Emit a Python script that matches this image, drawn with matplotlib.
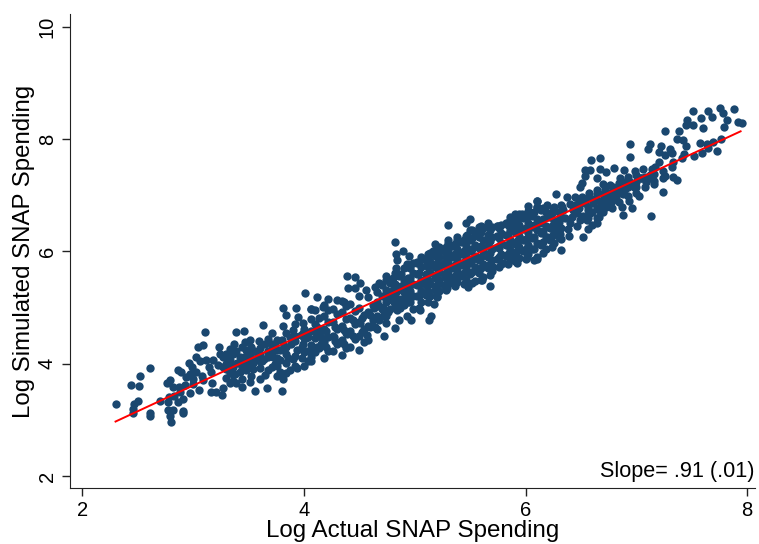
import matplotlib
matplotlib.use('Agg')
import matplotlib.pyplot as plt

# low end of the cloud
low_x = [2.30, 2.61, 2.52, 2.44, 2.51, 2.50, 2.47, 2.46, 2.455, 2.61, 2.61, 2.70, 2.78, 2.77, 2.79, 2.76,
         2.82, 2.87, 2.80, 2.79, 2.77, 2.82, 2.91, 2.91, 2.86, 2.91, 2.97, 3.05, 3.09, 3.00, 2.94, 2.86,
         2.89, 2.96, 2.99, 3.03, 2.97, 3.11, 3.09, 3.04, 3.03, 3.06, 3.12, 3.18, 3.16, 3.17, 3.16, 3.21,
         3.26, 3.27, 3.33, 3.39, 3.44, 3.51, 3.56, 3.67, 3.80, 3.81, 3.94, 4.04, 3.39, 3.46, 3.63, 3.81,
         3.93, 4.06, 3.84, 3.95, 3.81, 3.71, 3.59, 3.51, 3.37, 3.23, 3.33, 3.27, 3.33, 3.27, 3.36, 3.42,
         3.48, 3.47, 3.51, 3.48, 3.42, 3.48, 3.33, 3.57, 3.60, 3.65, 3.60, 3.65, 3.71, 3.75, 3.72, 3.71,
         3.78, 3.84, 3.87, 3.78, 3.87, 3.94, 3.995, 3.905, 4.03, 4.12, 3.995, 4.09, 4.15,
         2.83, 2.88, 2.93, 3.00, 3.08, 3.14, 3.22, 3.30, 3.38, 3.44, 3.54, 3.62, 3.68, 3.76, 3.82, 3.90, 3.98, 4.02,
         3.24, 3.30, 3.39, 3.45, 3.55, 3.68, 3.74, 3.80, 3.90, 3.97, 4.06]
low_y = [3.28, 3.93, 3.79, 3.62, 3.61, 3.34, 3.28, 3.20, 3.13, 3.12, 3.06, 3.34, 3.41, 3.32, 3.71, 3.65,
         3.58, 3.58, 2.96, 3.06, 3.18, 3.18, 3.16, 3.12, 3.32, 3.37, 3.47, 3.54, 3.71, 3.72, 3.76, 3.89,
         3.86, 4.01, 3.95, 3.86, 3.82, 4.57, 4.33, 4.30, 4.12, 4.04, 4.07, 4.07, 3.86, 3.65, 3.50, 3.50,
         3.44, 3.56, 3.66, 3.65, 3.59, 3.68, 3.52, 3.57, 3.52, 3.72, 3.92, 4.04, 4.57, 4.59, 4.69, 5.00,
         4.99, 4.97, 4.87, 4.84, 4.67, 4.54, 4.41, 4.42, 4.35, 4.30, 4.27, 4.12, 4.07, 3.95, 3.95, 4.12,
         4.24, 4.39, 4.18, 4.01, 3.86, 3.89, 3.83, 4.07, 3.92, 3.80, 4.18, 4.36, 4.36, 4.24, 4.12, 3.95,
         4.07, 4.18, 4.48, 3.86, 3.89, 4.24, 4.36, 4.60, 4.54, 4.66, 4.72, 4.24, 4.36,
         3.42, 3.50, 3.62, 3.64, 3.78, 3.94, 3.98, 4.00, 3.82, 4.00, 3.90, 4.05, 4.22, 3.96, 4.32, 4.08, 4.10, 4.46,
         4.18, 4.18, 4.22, 4.10, 4.22, 4.12, 4.00, 4.42, 4.40, 4.52, 4.12]

# middle of the cloud, outline points first
mid_x = [4.01, 4.12, 4.06, 4.39, 4.46, 4.51, 4.40, 4.46, 4.56, 4.64, 4.68, 4.74, 4.82, 4.89, 4.83, 4.95,
         4.84, 4.93, 4.83, 5.02, 5.12, 5.16, 5.18, 5.30, 5.46, 5.50, 5.30, 5.38, 5.23, 5.11, 5.47, 5.52,
         5.60, 5.66, 5.755, 5.86, 5.905, 5.965, 6.02, 6.10, 5.89, 6.04, 5.68, 5.61, 5.48, 5.29, 5.20, 5.17,
         5.15, 5.13, 5.05, 4.97, 4.93, 4.86, 4.82, 4.87, 4.72, 4.74, 4.71, 4.71, 4.63, 4.64, 4.57, 4.51,
         4.39, 4.27, 4.15, 3.995, 5.80, 5.90, 6.01, 6.10, 5.71, 4.17, 4.22, 4.30, 4.36,
         4.10, 4.10, 4.10, 4.10, 4.18, 4.18, 4.18, 4.18, 4.18, 4.26, 4.26, 4.26, 4.26,
         4.34, 4.34, 4.34, 4.34, 4.34, 4.42, 4.42, 4.42, 4.42, 4.50, 4.50, 4.50, 4.50, 4.50,
         4.58, 4.58, 4.58, 4.58, 4.66, 4.66, 4.66, 4.66, 4.74, 4.74, 4.74, 4.74,
         4.82, 4.82, 4.82, 4.82, 4.90, 4.90, 4.90, 4.90, 4.98, 4.98, 4.98, 4.98, 4.98,
         5.06, 5.06, 5.06, 5.06, 5.06, 5.14, 5.14, 5.14, 5.14, 5.14,
         5.22, 5.22, 5.22, 5.22, 5.22, 5.30, 5.30, 5.30, 5.30, 5.30,
         5.38, 5.38, 5.38, 5.38, 5.38, 5.46, 5.46, 5.46, 5.46, 5.46,
         5.54, 5.54, 5.54, 5.54, 5.54, 5.62, 5.62, 5.62, 5.62, 5.62,
         5.70, 5.70, 5.70, 5.70, 5.70, 5.78, 5.78, 5.78, 5.78, 5.78,
         5.86, 5.86, 5.86, 5.86, 5.86, 5.94, 5.94, 5.94, 5.94, 5.94,
         6.02, 6.02, 6.02, 6.02, 6.02, 6.10, 6.10, 6.10, 6.10, 6.10,
         6.18, 6.18, 6.18, 6.18, 6.26, 6.26, 6.26, 6.26]
mid_y = [5.26, 5.19, 4.97, 5.56, 5.54, 5.43, 5.34, 5.34, 5.31, 5.37, 5.44, 5.56, 6.17, 6.01, 5.95, 5.92,
         5.85, 5.78, 5.70, 5.79, 5.95, 6.01, 6.14, 6.48, 6.50, 6.57, 6.20, 6.20, 6.02, 5.82, 6.29, 6.39,
         6.46, 6.45, 6.45, 6.61, 6.67, 6.67, 6.81, 6.89, 6.47, 6.65, 5.38, 5.49, 5.37, 5.34, 5.19, 5.06,
         4.85, 4.78, 4.96, 4.77, 4.85, 4.78, 4.63, 5.00, 4.49, 4.73, 4.85, 4.99, 4.99, 4.65, 4.51, 4.72,
         4.53, 4.48, 4.48, 4.54, 5.79, 5.83, 5.91, 5.86, 5.73, 5.01, 5.16, 5.13, 5.10,
         4.20, 4.45, 4.70, 4.95, 4.10, 4.38, 4.62, 4.85, 5.05, 4.22, 4.50, 4.75, 4.98,
         4.15, 4.42, 4.68, 4.92, 5.12, 4.30, 4.58, 4.82, 5.06, 4.25, 4.50, 4.75, 5.00, 5.20,
         4.42, 4.68, 4.92, 5.18, 4.62, 4.85, 5.10, 5.28, 4.85, 5.10, 5.32, 5.50,
         5.02, 5.22, 5.42, 5.62, 5.05, 5.28, 5.50, 5.70, 4.98, 5.20, 5.42, 5.62, 5.80,
         5.10, 5.30, 5.50, 5.72, 5.90, 5.20, 5.42, 5.62, 5.82, 5.98,
         5.30, 5.50, 5.70, 5.90, 6.08, 5.42, 5.60, 5.80, 6.00, 6.15,
         5.45, 5.65, 5.85, 6.05, 6.25, 5.50, 5.70, 5.90, 6.10, 6.28,
         5.48, 5.72, 5.92, 6.12, 6.32, 5.55, 5.78, 6.00, 6.20, 6.42,
         5.65, 5.85, 6.05, 6.25, 6.44, 5.78, 5.95, 6.15, 6.32, 6.48,
         5.85, 6.02, 6.20, 6.38, 6.56, 5.88, 6.08, 6.28, 6.48, 6.66,
         5.95, 6.12, 6.32, 6.50, 6.72, 5.90, 6.15, 6.38, 6.58, 6.80,
         6.05, 6.25, 6.45, 6.70, 6.15, 6.35, 6.55, 6.80]

# in-between points that close the gaps in the dense band
fill_x = [4.14, 4.14, 4.14, 4.22, 4.22, 4.22, 4.22, 4.30, 4.30, 4.30, 4.38, 4.38, 4.38, 4.38,
          4.46, 4.46, 4.46, 4.54, 4.54, 4.54, 4.62, 4.62, 4.70, 4.70, 4.70, 4.78, 4.78, 4.78,
          4.86, 4.86, 4.86, 4.94, 4.94, 4.94, 4.94, 5.02, 5.02, 5.02, 5.02,
          5.10, 5.10, 5.10, 5.10, 5.18, 5.18, 5.18, 5.18, 5.26, 5.26, 5.26, 5.26,
          5.34, 5.34, 5.34, 5.34, 5.42, 5.42, 5.42, 5.42, 5.50, 5.50, 5.50, 5.50, 5.50,
          5.58, 5.58, 5.58, 5.58, 5.58, 5.66, 5.66, 5.66, 5.66, 5.66,
          5.74, 5.74, 5.74, 5.74, 5.82, 5.82, 5.82, 5.82, 5.90, 5.90, 5.90, 5.90,
          5.98, 5.98, 5.98, 5.98, 6.06, 6.06, 6.06, 6.06, 6.14, 6.14, 6.14, 6.14,
          6.22, 6.22, 6.22, 6.30, 6.30, 6.30]
fill_y = [4.28, 4.56, 4.82, 4.22, 4.48, 4.74, 4.96, 4.36, 4.62, 4.88, 4.28, 4.54, 4.80, 5.02,
          4.44, 4.70, 4.94, 4.38, 4.62, 4.86, 4.78, 5.04, 4.98, 5.20, 5.40, 4.98, 5.22, 5.44,
          5.12, 5.34, 5.56, 5.10, 5.32, 5.52, 5.72, 5.20, 5.40, 5.60, 5.82,
          5.22, 5.40, 5.60, 5.84, 5.32, 5.52, 5.72, 5.92, 5.40, 5.60, 5.80, 6.00,
          5.50, 5.70, 5.90, 6.10, 5.56, 5.76, 5.96, 6.16, 5.60, 5.80, 6.00, 6.20, 6.38,
          5.62, 5.84, 6.06, 6.26, 6.44, 5.70, 5.90, 6.10, 6.30, 6.50,
          5.86, 6.08, 6.28, 6.46, 5.92, 6.12, 6.30, 6.50, 5.94, 6.14, 6.34, 6.54,
          6.00, 6.20, 6.40, 6.60, 6.04, 6.24, 6.44, 6.64, 6.12, 6.32, 6.52, 6.74,
          6.20, 6.42, 6.62, 6.26, 6.46, 6.70]

# second pass over the band, where the picture is nearly solid
core_x = [4.80, 4.80, 4.80, 4.88, 4.88, 4.88, 4.96, 4.96, 4.96, 4.96,
          5.04, 5.04, 5.04, 5.04, 5.04, 5.12, 5.12, 5.12, 5.12, 5.12,
          5.20, 5.20, 5.20, 5.20, 5.20, 5.28, 5.28, 5.28, 5.28, 5.28,
          5.36, 5.36, 5.36, 5.36, 5.36, 5.44, 5.44, 5.44, 5.44, 5.44,
          5.52, 5.52, 5.52, 5.52, 5.52, 5.60, 5.60, 5.60, 5.60, 5.60,
          5.68, 5.68, 5.68, 5.68, 5.68, 5.76, 5.76, 5.76, 5.76, 5.76,
          5.84, 5.84, 5.84, 5.84, 5.84, 5.92, 5.92, 5.92, 5.92, 5.92,
          6.00, 6.00, 6.00, 6.00, 6.00, 6.08, 6.08, 6.08, 6.08, 6.08,
          6.16, 6.16, 6.16, 6.16, 6.16, 6.24, 6.24, 6.24, 6.24,
          6.32, 6.32, 6.32, 6.32, 6.32]
core_y = [5.12, 5.32, 5.52, 5.16, 5.38, 5.60, 5.10, 5.30, 5.52, 5.70,
          5.00, 5.20, 5.40, 5.62, 5.80, 5.10, 5.30, 5.50, 5.72, 5.88,
          5.20, 5.40, 5.60, 5.80, 5.98, 5.32, 5.52, 5.72, 5.90, 6.08,
          5.38, 5.56, 5.76, 5.96, 6.14, 5.42, 5.62, 5.82, 6.00, 6.20,
          5.44, 5.64, 5.84, 6.04, 6.24, 5.50, 5.70, 5.90, 6.10, 6.34,
          5.58, 5.78, 5.98, 6.18, 6.38, 5.72, 5.90, 6.06, 6.24, 6.42,
          5.78, 5.96, 6.12, 6.30, 6.48, 5.80, 6.00, 6.18, 6.38, 6.58,
          5.86, 6.04, 6.22, 6.42, 6.62, 5.84, 6.04, 6.26, 6.48, 6.70,
          5.98, 6.16, 6.36, 6.58, 6.78, 6.08, 6.28, 6.46, 6.68,
          6.02, 6.22, 6.42, 6.62, 6.82]

# extra points in the lower and upper parts of the band
side_x = [3.30, 3.30, 3.30, 3.36, 3.36, 3.36, 3.44, 3.44, 3.44, 3.52, 3.52, 3.52, 3.52,
          3.60, 3.60, 3.60, 3.68, 3.68, 3.68, 3.76, 3.76, 3.76, 3.84, 3.84, 3.84, 3.84,
          3.92, 3.92, 3.92, 3.92, 4.00, 4.00, 4.00, 4.00, 4.06, 4.06, 4.06, 4.06,
          6.56, 6.56, 6.56, 6.56, 6.64, 6.64, 6.64, 6.64, 6.70, 6.70, 6.70, 6.70,
          6.76, 6.76, 6.76, 6.84, 6.84, 6.84, 6.92, 6.92, 6.92, 7.00, 7.00, 7.00,
          7.08, 7.08, 7.16, 7.16, 7.24, 7.24,
          3.34, 3.40, 3.46, 3.54, 3.58, 3.64, 3.70, 3.74, 3.78, 3.86, 3.88, 3.92, 3.98,
          4.04, 4.04, 4.12, 4.12, 4.20, 4.20, 4.28, 4.28, 4.36, 4.36, 4.44, 4.44, 4.52, 4.52,
          4.60, 4.60, 4.68, 4.68, 4.76, 4.76, 4.84, 4.84, 4.92, 4.92,
          6.38, 6.42, 6.46, 6.48, 6.52, 6.54, 6.60, 6.62, 6.68, 6.72, 6.78, 6.80,
          6.86, 6.90, 6.96, 7.04, 7.12]
side_y = [3.75, 3.90, 4.10, 4.18, 3.82, 3.70, 3.72, 4.30, 3.95, 3.78, 3.95, 4.10, 4.30,
          3.72, 4.05, 4.28, 3.88, 4.20, 4.44, 3.78, 4.10, 4.42, 3.84, 4.02, 4.30, 4.54,
          3.96, 4.14, 4.40, 4.70, 3.96, 4.20, 4.46, 4.62, 4.04, 4.34, 4.58, 4.80,
          6.40, 6.60, 6.80, 6.96, 6.60, 6.78, 6.92, 7.10, 6.70, 6.86, 7.02, 7.20,
          6.86, 7.00, 7.18, 6.88, 7.06, 7.22, 6.98, 7.14, 7.32, 7.04, 7.24, 7.36,
          7.14, 7.32, 7.20, 7.38, 7.30, 7.44,
          3.98, 4.02, 4.12, 4.02, 4.20, 4.08, 4.24, 4.34, 4.24, 4.10, 4.36, 4.50, 4.30,
          4.22, 4.48, 4.30, 4.54, 4.30, 4.58, 4.40, 4.66, 4.36, 4.60, 4.50, 4.78, 4.56, 4.82,
          4.66, 4.86, 4.78, 5.02, 4.92, 5.18, 4.96, 5.30, 5.18, 5.42,
          6.40, 6.62, 6.46, 6.78, 6.64, 6.92, 6.70, 6.92, 6.78, 6.94, 6.90, 7.04,
          7.10, 7.24, 7.20, 7.30, 7.30]

# top end of the cloud
high_x = [7.51, 7.65, 7.755, 7.88, 7.46, 7.58, 7.68, 7.785, 7.815, 7.92, 7.95, 7.445, 7.51, 7.60, 7.79, 7.26,
          7.385, 7.37, 7.42, 7.45, 7.575, 7.635, 7.695, 7.76, 7.725, 7.59, 7.65, 7.52, 7.43, 7.41, 6.94, 6.94,
          7.12, 7.10, 7.22, 7.20, 7.30, 7.32, 7.26, 7.33, 7.32, 7.20, 7.17, 7.14, 6.59, 6.675, 6.54, 6.58,
          6.67, 6.73, 6.80, 6.89, 6.99, 7.06, 7.26, 7.33, 7.37, 7.24, 7.13, 6.88, 6.54, 6.64, 6.51, 6.49,
          6.27, 6.10, 6.57, 6.96, 6.87, 6.93, 7.02, 7.00, 7.09, 7.16, 6.94, 6.85, 6.79, 6.72, 6.64, 6.78,
          6.66, 6.64, 6.60, 6.52, 6.395, 6.31, 6.19, 6.37, 6.45, 6.51, 6.33, 6.43, 6.54, 6.61, 6.70, 6.82,
          6.88, 6.73, 6.58, 6.49, 6.40, 6.28, 6.19, 6.13, 6.07, 6.19, 6.31, 6.10, 6.25, 6.45, 6.55, 6.66, 6.81,
          6.36, 6.40, 6.46, 6.48, 6.56, 6.62, 6.68, 6.76, 6.84, 6.90, 6.98, 7.04, 7.12, 6.30, 6.34]
high_y = [8.50, 8.50, 8.56, 8.54, 8.35, 8.38, 8.40, 8.47, 8.34, 8.30, 8.29, 8.25, 8.25, 8.20, 8.21, 8.15,
          8.14, 8.00, 7.98, 7.88, 7.94, 7.92, 7.95, 8.00, 7.79, 7.76, 7.84, 7.70, 7.73, 7.66, 7.91, 7.69,
          7.91, 7.82, 7.88, 7.77, 7.82, 7.75, 7.72, 7.60, 7.51, 7.60, 7.51, 7.46, 7.63, 7.67, 7.45, 7.45,
          7.46, 7.42, 7.48, 7.45, 7.43, 7.46, 7.35, 7.32, 7.27, 7.06, 6.63, 6.65, 7.34, 7.30, 7.22, 7.14,
          7.02, 6.90, 7.05, 6.78, 6.80, 6.89, 6.99, 7.15, 7.24, 7.26, 7.24, 7.30, 7.15, 7.12, 7.03, 6.77,
          6.62, 6.50, 6.47, 6.26, 6.27, 6.31, 6.83, 6.97, 6.97, 6.97, 6.80, 6.74, 6.86, 6.86, 6.91, 6.97,
          7.03, 6.80, 6.68, 6.56, 6.50, 6.44, 6.26, 6.50, 6.68, 6.62, 6.62, 6.80, 6.74, 6.83, 6.56, 6.74, 7.09,
          6.60, 6.84, 6.68, 6.90, 6.74, 6.94, 6.84, 7.04, 7.10, 7.12, 7.14, 7.30, 7.36, 6.52, 6.74]

# fitted line ends
fit_x = [2.30, 7.94]
fit_y = [2.97, 8.14]

x_ticks = [2, 4, 6, 8]
y_ticks = [2, 4, 6, 8, 10]

plt.rcParams['font.family'] = ['Liberation Sans', 'DejaVu Sans']

fig = plt.figure(figsize=(7.59, 5.44), dpi=100)
ax = fig.add_axes([70 / 759, 56 / 544, 685 / 759, 474 / 544])

all_x = low_x + mid_x + fill_x + core_x + side_x + high_x
all_y = low_y + mid_y + fill_y + core_y + side_y + high_y
ax.scatter(all_x, all_y, s=36, color='#1a476f', linewidths=0, zorder=2)
ax.plot(fit_x, fit_y, color='#ff0000', linewidth=1.4, zorder=3)

ax.set_xlim(1.889, 8.07)
ax.set_ylim(1.786, 10.23)
ax.set_xticks(x_ticks)
ax.set_yticks(y_ticks)
ax.tick_params(labelsize=14.5, length=6, width=1, color='#222222')
for label in ax.get_yticklabels():
    label.set_rotation(90)
    label.set_va('center')

ax.set_xlabel('Log Actual SNAP Spending', fontsize=17.4, labelpad=0)
ax.set_ylabel('Log Simulated SNAP Spending', fontsize=17.3, labelpad=2)

ax.spines['top'].set_visible(False)
ax.spines['right'].set_visible(False)
ax.spines['left'].set_color('#222222')
ax.spines['bottom'].set_color('#222222')

ax.text(0.999, 0.012, 'Slope= .91 (.01)', transform=ax.transAxes,
        ha='right', va='bottom', fontsize=15.6)

fig.savefig('out.png', dpi=100)
